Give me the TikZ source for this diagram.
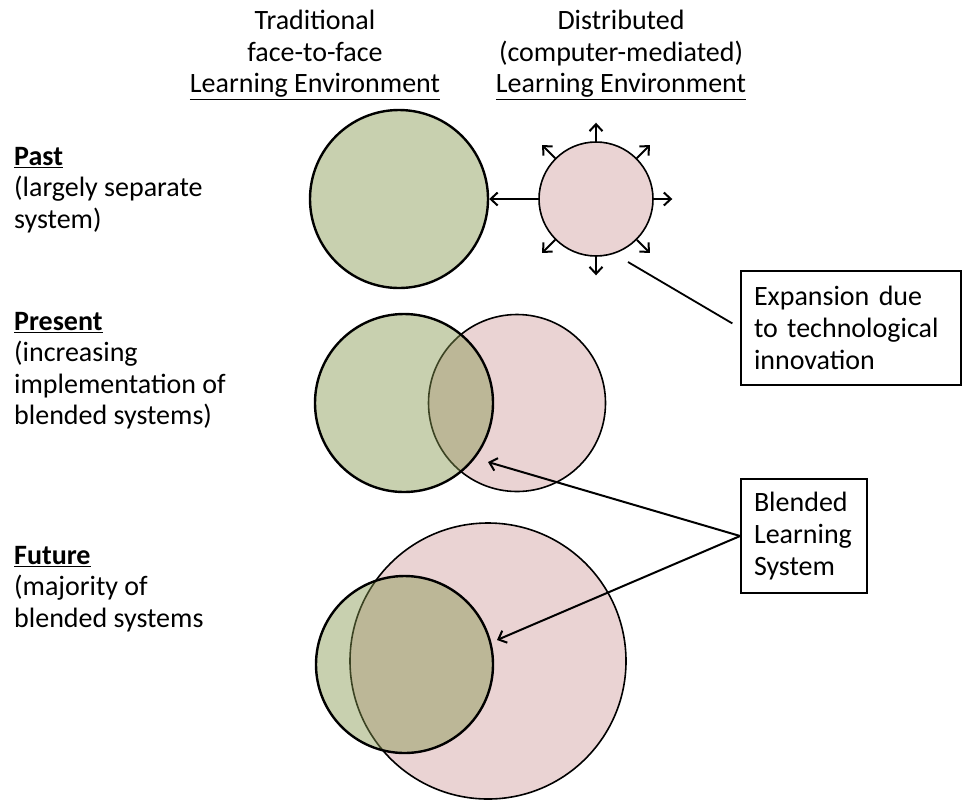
\documentclass[tikz,border=0pt]{standalone}
\usepackage{fontspec}
\setmainfont{Carlito}
\usetikzlibrary{arrows.meta,calc}
\definecolor{pinkfill}{RGB}{234,211,211}
\definecolor{greenbase}{RGB}{133,150,78}
\tikzset{
  txt/.style={inner sep=0pt, font=\fontsize{28}{31.5}\selectfont},
  pinkc/.style={circle, inner sep=0pt, fill=pinkfill, draw=black, line width=1.6pt},
  greenc/.style={circle, inner sep=0pt, fill=greenbase, fill opacity=0.45, draw=black, draw opacity=1, line width=2.4pt},
  arr/.style={-{Straight Barb[length=7pt,width=13pt,line width=2pt]}, line width=2pt},
  plain/.style={line width=1.8pt},
  box/.style={draw=black, line width=1.8pt, inner xsep=13pt, align=left, font=\fontsize{28}{32}\selectfont}
}
\begin{document}
\begin{tikzpicture}[x=1pt,y=-1pt]
\useasboundingbox (0,0) rectangle (965,804);
% headers
\node[txt, align=center, anchor=north] (h1) at (315,10) {Traditional\\face-to-face\\\underline{Learning Environment}};
\node[txt, align=center, anchor=north] (h2) at (621,10) {Distributed\\(computer-mediated)\\\underline{Learning Environment}};
% left labels
\node[txt, align=left, anchor=north west] (l1) at (14,147) {\textbf{\underline{Past}}\\(largely separate\\system)};
\node[txt, align=left, anchor=north west] (l2) at (14,312) {\textbf{\underline{Present}}\\(increasing\\implementation of\\blended systems)};
\node[txt, align=left, anchor=north west] (l3) at (14,546) {\textbf{\underline{Future}}\\(majority of\\blended systems};
% past
\node[greenc, minimum size=178pt] (pg) at (399,199) {};
\node[pinkc, minimum size=114pt] (pp) at (596,199) {};
\draw[arr] (pp.west) -- (pg.east);
\foreach \a in {0,45,90,135,225,270,315}{
  \draw[arr] (pp.\a) -- ($(pp.center)!1.32!(pp.\a)$);
}
% present
\node[pinkc, minimum size=177pt] (rp) at (517,403) {};
\node[greenc, minimum size=178pt] (rg) at (404,403) {};
% future
\node[pinkc, minimum size=276pt] (fp) at (488,661) {};
\node[greenc, minimum size=177pt] (fg) at (404.5,664.5) {};
% boxes
\node[box, minimum width=220pt, minimum height=114pt, text width=194pt] (b1) at (851,328) {Expansion due\\to technological\\innovation};
\node[box, minimum width=126pt, minimum height=114pt, text width=100pt] (b2) at (804,536) {Blended\\Learning\\System};
% connectors
\coordinate (e1) at (628,262);
\draw[plain, shorten >=9pt] (e1) -- (b1.west);
\coordinate (t1) at (488,462);
\coordinate (t2) at (497,640);
\draw[arr] (b2.west) -- (t1);
\draw[arr] (b2.west) -- (t2);
\end{tikzpicture}
\end{document}
